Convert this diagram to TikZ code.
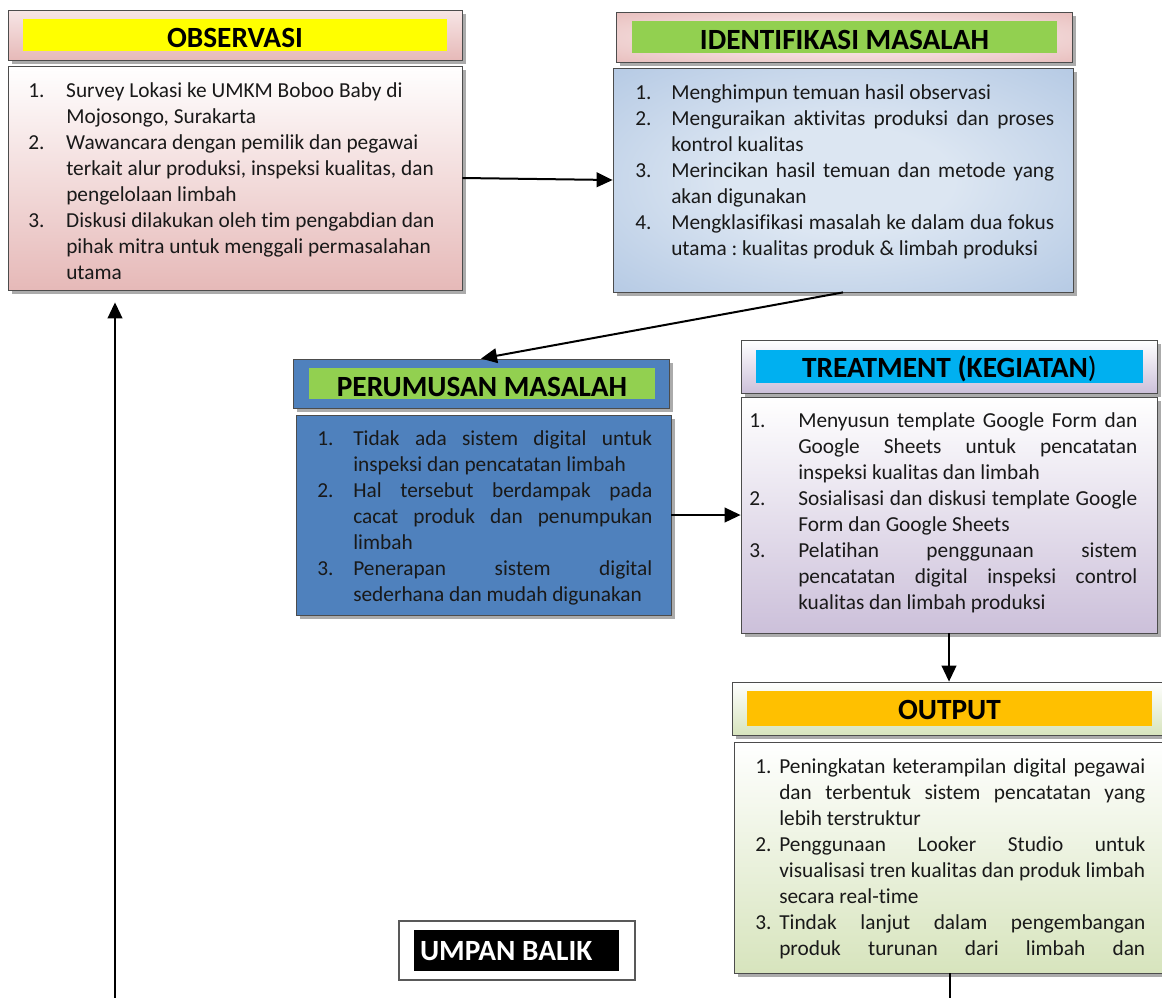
\documentclass[tikz,border=0pt]{standalone}
\usepackage{fontspec}
\setmainfont{Carlito}[Ligatures={NoCommon,NoContextual},Contextuals=NoAlternate]
\usetikzlibrary{arrows.meta,fit,shadows}
\definecolor{kuning}{HTML}{FFFF00}
\definecolor{hijau}{HTML}{92D050}
\definecolor{biru}{HTML}{00B0F0}
\definecolor{jingga}{HTML}{FFC000}
\definecolor{merahmuda}{HTML}{E6B9B8}
\definecolor{merahpucat}{HTML}{F7E6E6}
\definecolor{merahtua}{HTML}{D99694}
\definecolor{birumuda}{HTML}{8EADD6}
\definecolor{birupucat}{HTML}{DCE6F2}
\definecolor{birutua}{HTML}{4F81BD}
\definecolor{ungu}{HTML}{CCC0DA}
\definecolor{hijaumuda}{HTML}{D7E4BD}
\pgfdeclareradialshading{cahayabiru}{\pgfpoint{0bp}{0bp}}{color(0bp)=(birupucat); color(12bp)=(birupucat); color(60bp)=(birumuda)}
\pgfdeclareradialshading{cahayamerah}{\pgfpoint{0bp}{0bp}}{color(0bp)=(merahpucat); color(12bp)=(merahpucat); color(60bp)=(merahtua)}
\newlength\lebar
\newcommand{\butir}[2]{\par\noindent\hangindent=\lebar\hangafter=1\makebox[\lebar][l]{#1}#2}
\newcommand{\isian}[3]{\parbox[t]{#1}{\fontsize{16}{19.5}\selectfont\setlength\lebar{#2}#3}}
\newcommand{\rata}{\spaceskip=\fontdimen2\font plus 1fil minus \fontdimen4\font\relax\xspaceskip=\spaceskip\parfillskip=0pt plus 1fill\relax}
\hbadness=10000
\hyphenpenalty=10000
\tikzset{
	kotak/.style={draw=black!70, line width=0.6pt, inner sep=0pt, drop shadow={shadow xshift=3pt, shadow yshift=-3pt, fill=black!55, opacity=.6}},
	pita/.style={inner sep=0pt},
	judulteks/.style={inner sep=0pt, anchor=base, font=\fontsize{22}{26}\selectfont\bfseries},
	teks/.style={inner sep=0pt, anchor=base west, text=black!90},
	panah/.style={line width=1.5pt, -{Triangle[length=12pt,width=11pt]}},
	garis/.style={line width=1.5pt}
}
\begin{document}
\begin{tikzpicture}[x=0.75pt,y=-0.75pt]
	\clip (0,0) rectangle (1162,997);
	% Observasi
	\node[kotak, fit={(8,10)(462,60)}, top color=merahpucat, bottom color=merahmuda] (obsjudul) {};
	\node[pita, fit={(23,19)(447,51)}, fill=kuning] (obspita) {};
	\node[judulteks] (obsjudulteks) at ([yshift=-9pt]obspita.center) {OBSERVASI};
	\node[kotak, fit={(8,66)(462,290)}, top color=white, bottom color=merahmuda] (obsisi) {};
	\node[teks] (obsteks) at (28,97) {\isian{309pt}{28.5pt}{\raggedright
		\butir{1.}{Survey Lokasi ke UMKM Boboo Baby di\newline Mojosongo, Surakarta}
		\butir{2.}{Wawancara dengan pemilik dan pegawai\newline terkait alur produksi, inspeksi kualitas, dan\newline pengelolaan limbah}
		\butir{3.}{Diskusi dilakukan oleh tim pengabdian dan\newline pihak mitra untuk menggali permasalahan\newline utama}}};
	% Identifikasi masalah
	\node[kotak, fit={(616,12)(1072,62)}, shading=cahayamerah] (idejudul) {};
	\node[pita, fit={(632,21)(1057,53)}, fill=hijau] (idepita) {};
	\node[judulteks] (idejudulteks) at ([yshift=-9pt]idepita.center) {IDENTIFIKASI MASALAH};
	\node[kotak, fit={(613,68)(1073,292)}, shading=cahayabiru] (ideisi) {};
	\node[teks] (ideteks) at (635,99) {\isian{314.25pt}{27pt}{\rata
		\butir{1.}{Menghimpun temuan hasil observasi}
		\butir{2.}{Menguraikan aktivitas produksi dan proses\linebreak kontrol kualitas}
		\butir{3.}{Merincikan hasil temuan dan metode yang\linebreak akan digunakan}
		\butir{4.}{Mengklasifikasi masalah ke dalam dua fokus\linebreak utama : kualitas produk \& limbah produksi}}};
	% Perumusan masalah
	\node[kotak, fit={(293,359)(669,408)}, fill=birutua] (rumjudul) {};
	\node[pita, fit={(309,368)(655,399)}, fill=hijau] (rumpita) {};
	\node[judulteks] (rumjudulteks) at ([yshift=-10pt]rumpita.center) {PERUMUSAN MASALAH};
	\node[kotak, fit={(296,415)(671,615)}, fill=birutua] (rumisi) {};
	\node[teks] (rumteks) at (317,445) {\isian{251.25pt}{27pt}{\rata
		\butir{1.}{Tidak ada sistem digital untuk\linebreak inspeksi dan pencatatan limbah}
		\butir{2.}{Hal tersebut berdampak pada\linebreak cacat produk dan penumpukan\linebreak limbah}
		\butir{3.}{Penerapan sistem digital\linebreak sederhana dan mudah digunakan}}};
	% Treatment
	\node[kotak, fit={(741,340)(1157,393)}, top color=white, bottom color=ungu] (trejudul) {};
	\node[pita, fit={(756,350)(1143,383)}, fill=biru] (trepita) {};
	\node[judulteks] (trejudulteks) at ([yshift=-8.6pt]trepita.center) {TREATMENT (KEGIATAN{\mdseries)}};
	\node[kotak, fit={(741,397)(1157,633)}, top color=white, bottom color=ungu] (treisi) {};
	\node[teks] (treteks) at (749,427) {\isian{291pt}{36.75pt}{\rata
		\butir{1.}{Menyusun template Google Form dan\linebreak Google Sheets untuk pencatatan\linebreak inspeksi kualitas dan limbah}
		\butir{2.}{Sosialisasi dan diskusi template Google\linebreak Form dan Google Sheets}
		\butir{3.}{Pelatihan penggunaan sistem\linebreak pencatatan digital inspeksi control\linebreak kualitas dan limbah produksi}}};
	% Output
	\node[kotak, fit={(732,682)(1166,735)}, top color=white, bottom color=hijaumuda] (outjudul) {};
	\node[pita, fit={(747,691)(1152,726)}, fill=jingga] (outpita) {};
	\node[judulteks] (outjudulteks) at ([yshift=-8.6pt]outpita.center) {OUTPUT};
	\node[kotak, fit={(734,742)(1166,973)}, top color=white, bottom color=hijaumuda] (outisi) {};
	\node[teks] (outteks) at (755,773) {\isian{292.5pt}{18pt}{\rata
		\butir{1.}{Peningkatan keterampilan digital pegawai\linebreak dan terbentuk sistem pencatatan yang\linebreak lebih terstruktur}
		\butir{2.}{Penggunaan Looker Studio untuk\linebreak visualisasi tren kualitas dan produk limbah\linebreak secara real-time}
		\butir{3.}{Tindak lanjut dalam pengembangan\linebreak produk turunan dari limbah dan\parfillskip=0pt}}};
	% Umpan balik
	\node[draw=black!65, line width=0.8pt, fill=white, inner sep=0pt, fit={(399,921)(635,980)}] (balik) {};
	\node[pita, fill=black, fit={(414,930)(619,971)}] (balikpita) {};
	\node[judulteks, anchor=base west, text=white] (balikteks) at ([xshift=4.5pt,yshift=-7.6pt]balikpita.west) {UMPAN BALIK};
	% Penghubung
	\coordinate (bawahL) at (115,1005);
	\coordinate (bawahK) at (950,1005);
	\draw[panah] (obsisi.east) -- (ideisi.west);
	\draw[panah] (ideisi.south) -- (rumjudul.north);
	\draw[panah] (rumisi.east) -- (treisi.west);
	\draw[panah] (treisi.south) -- (outjudul.north);
	\draw[garis] (outisi.south) -- (outisi.south |- bawahK);
	\draw[panah, shorten >=9pt] (bawahL) -- (bawahL |- obsisi.south);
\end{tikzpicture}
\end{document}
